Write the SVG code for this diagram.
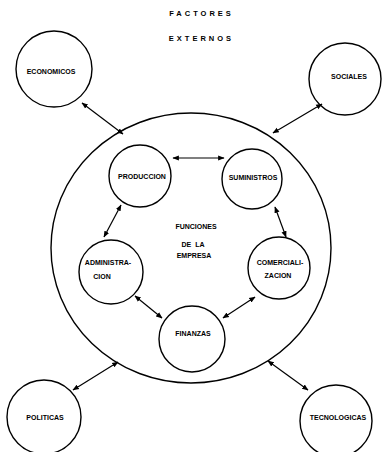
<svg xmlns="http://www.w3.org/2000/svg" width="382" height="452" viewBox="0 0 382 452">
<style>
.n{fill:none;stroke:#000;stroke-width:1.4}
.t{font-family:"Liberation Sans",Arial,sans-serif;font-weight:bold;font-size:7px;fill:#000;text-anchor:middle}
.h{font-family:"Liberation Sans",Arial,sans-serif;font-weight:bold;font-size:7.5px;fill:#000;text-anchor:middle;letter-spacing:3px}
.c{stroke:#000;stroke-width:1.2;fill:none;marker-start:url(#a);marker-end:url(#a)}
</style>
<defs>
<marker id="a" viewBox="0 0 10 10" refX="9" refY="5" markerWidth="6.5" markerHeight="6.5" markerUnits="userSpaceOnUse" orient="auto-start-reverse">
<path d="M0,1 L10,5 L0,9 z" fill="#000"/>
</marker>
</defs>
<rect width="382" height="452" fill="#fff"/>
<g id="title">
<text class="h" x="201.5" y="16">FACTORES</text>
<text class="h" x="201.5" y="41">EXTERNOS</text>
</g>
<g id="empresa">
<ellipse class="n" cx="191" cy="248" rx="140" ry="135"/>
<text class="t" x="196" y="229">FUNCIONES</text>
<text class="t" x="193" y="247" xml:space="preserve">DE  LA</text>
<text class="t" x="194" y="258">EMPRESA</text>
</g>
<g id="economicos"><circle class="n" cx="54" cy="69" r="38"/><text class="t" x="51" y="74">ECONOMICOS</text></g>
<g id="sociales"><circle class="n" cx="345" cy="79" r="36"/><text class="t" x="349" y="79">SOCIALES</text></g>
<g id="politicas"><circle class="n" cx="44" cy="417" r="37"/><text class="t" x="45" y="420">POLITICAS</text></g>
<g id="tecnologicas"><circle class="n" cx="336" cy="421" r="36"/><text class="t" x="338" y="420">TECNOLOGICAS</text></g>
<g id="produccion"><circle class="n" cx="140" cy="176" r="31"/><text class="t" x="142" y="179">PRODUCCION</text></g>
<g id="suministros"><circle class="n" cx="252" cy="179" r="30"/><text class="t" x="253" y="180">SUMINISTROS</text></g>
<g id="administracion"><circle class="n" cx="111" cy="272" r="32"/><text class="t" x="108" y="265">ADMINISTRA-</text><text class="t" x="102" y="279">CION</text></g>
<g id="comercializacion"><circle class="n" cx="279" cy="268" r="31"/><text class="t" x="280" y="265">COMERCIALI-</text><text class="t" x="278" y="278">ZACION</text></g>
<g id="finanzas"><circle class="n" cx="192" cy="339" r="33"/><text class="t" x="193" y="336">FINANZAS</text></g>
<g id="connectors">
<line class="c" x1="82" y1="103" x2="123" y2="134"/>
<line class="c" x1="322" y1="104" x2="273" y2="133"/>
<line class="c" x1="173" y1="158" x2="224" y2="158"/>
<line class="c" x1="121" y1="205" x2="104" y2="237"/>
<line class="c" x1="275" y1="207" x2="286" y2="237"/>
<line class="c" x1="135" y1="296" x2="162" y2="318"/>
<line class="c" x1="255" y1="297" x2="223" y2="318"/>
<line class="c" x1="118" y1="362" x2="73" y2="390"/>
<line class="c" x1="268" y1="361" x2="308" y2="390"/>
</g>
</svg>
